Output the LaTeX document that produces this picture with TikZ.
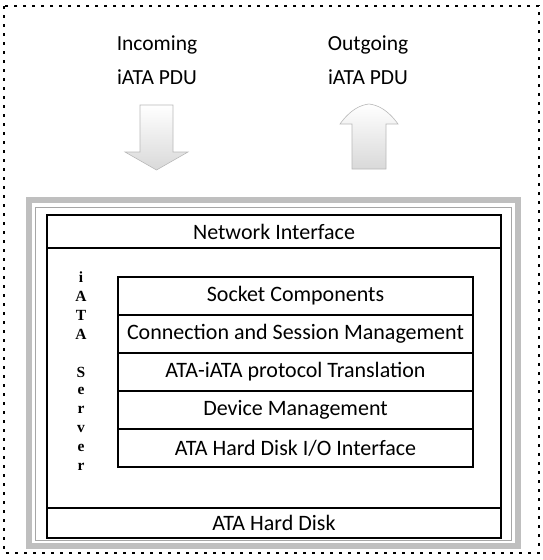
\documentclass[tikz,border=0pt]{standalone}
\usepackage{fontspec}
\setmainfont{Carlito}
\newfontfamily\serifbold{Liberation Serif}
\begin{document}
\begin{tikzpicture}[x=1pt,y=-1pt,
  lbl/.style={font=\fontsize{21.5}{25}\selectfont, inner sep=0pt},
  box/.style={draw=black, line width=1.3pt, inner sep=0pt, font=\fontsize{22}{26}\selectfont},
  rowbox/.style={box, minimum width=355pt, minimum height=38pt},
  vl/.style={font=\serifbold\bfseries\fontsize{15.5}{17}\selectfont, inner sep=0pt}
]
\useasboundingbox (0,0) rectangle (543,560);
% outer dotted frame
\draw[line width=2.4pt, dash pattern=on 3pt off 6pt] (4,6) rectangle (539,553);
% gray double frame
\draw[gray!50, line width=6pt] (28.5,200) rectangle (518,546);
\draw[gray!70, line width=0.8pt] (35,207) rectangle (511.5,540.5);
% captions
\node[lbl] (inc1) at (157,45) {Incoming};
\node[lbl] (inc2) at (157,77) {iATA PDU};
\node[lbl] (out1) at (368,45) {Outgoing};
\node[lbl] (out2) at (368,77) {iATA PDU};
% down arrow
\shade[top color=white, bottom color=gray!30, draw=gray!55, line width=0.6pt]
  (140,105) -- (173,105) -- (173,152) -- (188,152) -- (156.5,170) -- (125,152) -- (140,152) -- cycle;
% up arrow
\shade[top color=white, bottom color=gray!30, draw=gray!55, line width=0.6pt]
  (352,169) -- (352,124) -- (340,124) .. controls (350,110) and (360,105) .. (369,104)
  .. controls (378,105) and (388,110) .. (398,124) -- (386,124) -- (386,169) -- cycle;
% server box
\node[box, minimum width=454pt, minimum height=293pt] (srv) at (274,361.5) {};
\node[box, minimum width=454pt, minimum height=33pt] (ni) at (274,231.5) {Network Interface};
\node[box, minimum width=454pt, minimum height=30pt] (hd) at (274,523) {ATA Hard Disk};
% stack
\node[rowbox] (sock) at (295.5,296) {Socket Components};
\node[rowbox] (conn) at (295.5,334) {Connection and Session Management};
\node[rowbox] (trans) at (295.5,372) {ATA-iATA protocol Translation};
\node[rowbox] (dev) at (295.5,410) {Device Management};
\node[rowbox] (hdio) at (295.5,448) {ATA Hard Disk I/O Interface};
% vertical label
\foreach \l/\yy [count=\k] in {i/277, A/296, T/315, A/334, S/372, e/391, r/410, v/429, e/448, r/467}
  \node[vl] (v\k) at (81,\yy) {\l};
\end{tikzpicture}
\end{document}
